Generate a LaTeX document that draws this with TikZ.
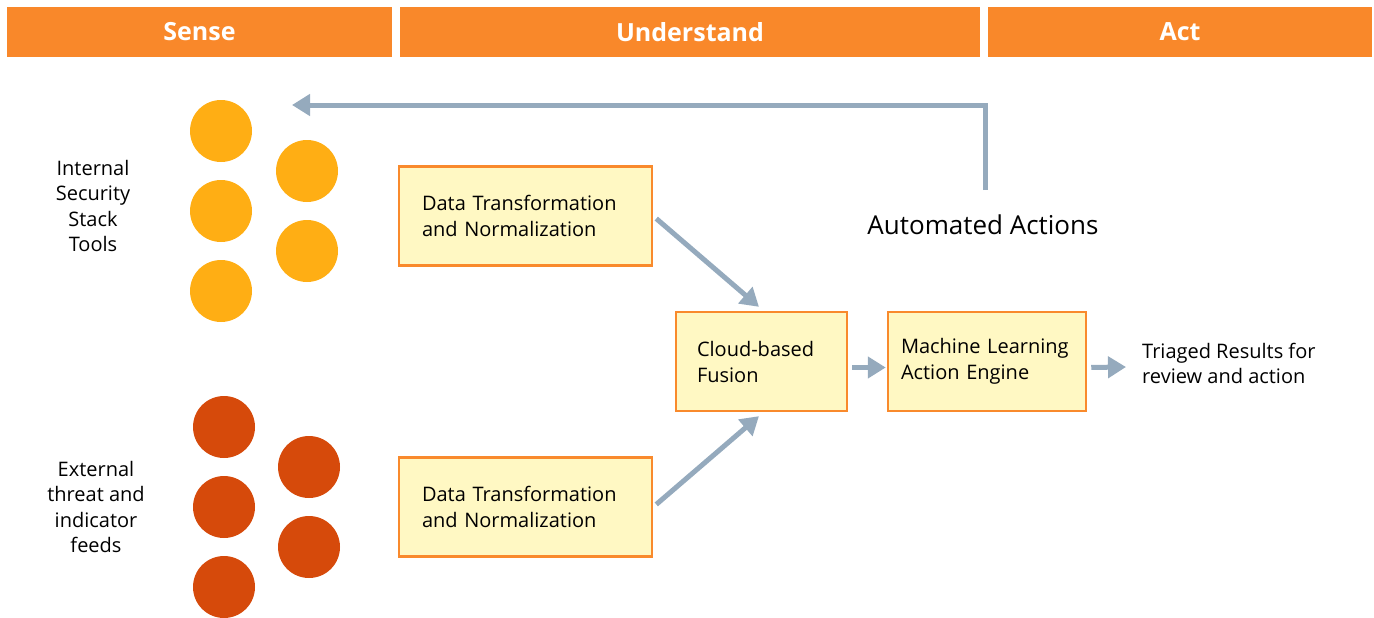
\documentclass[tikz,border=0pt]{standalone}
\usepackage{fontspec}
\setmainfont{Open Sans}
\usepackage{tikz}
\usetikzlibrary{arrows.meta}
\definecolor{hdrorange}{HTML}{F9882A}
\definecolor{dotyellow}{HTML}{FFAE14}
\definecolor{dotred}{HTML}{D64A0B}
\definecolor{boxfill}{HTML}{FFF8C3}
\definecolor{boxedge}{HTML}{F98A2C}
\definecolor{flowgray}{HTML}{95AABD}

\begin{document}
\begin{tikzpicture}[line cap=butt,line join=miter,x=1pt,y=-1pt,
  header/.style={fill=hdrorange,text=white,font=\fontsize{25}{30}\selectfont\bfseries,minimum height=50pt,inner sep=0pt},
  stagebox/.style={draw=boxedge,line width=2.5pt,fill=boxfill,minimum height=99pt,align=left,font=\fontsize{20}{26}\selectfont},
  sidetext/.style={align=center,font=\fontsize{20}{25.5}\selectfont},
  flow/.style={draw=flowgray,line width=5pt,-{Triangle[length=18pt,width=21pt]}}]
\useasboundingbox (0,0) rectangle (1374,618);
% phase headers
\node[header,minimum width=385pt] (sense) at (199.5,32) {Sense};
\node[header,minimum width=580pt] (understand) at (690,32) {Understand};
\node[header,minimum width=384pt] (act) at (1180,32) {Act};
% source dots
\foreach \y in {131,211,291} \fill[dotyellow] (221,\y) circle (31);
\foreach \y in {171,251} \fill[dotyellow] (307,\y) circle (31);
\foreach \y in {427,507,587} \fill[dotred] (224,\y) circle (31);
\foreach \y in {467,547} \fill[dotred] (309,\y) circle (31);
\node[sidetext] (internal) at (93,206) {Internal\\Security\\Stack\\Tools};
\node[sidetext] (external) at (96,507) {External\\threat and\\indicator\\feeds};
% processing boxes
\node[stagebox,inner xsep=23pt,text width=207pt] (dt1) at (525.5,216) {Data Transformation\\and Normalization};
\node[stagebox,inner xsep=23pt,text width=207pt] (dt2) at (525.5,507) {Data Transformation\\and Normalization};
\node[stagebox,inner xsep=21pt,text width=129pt] (cloud) at (761.5,361.5) {Cloud-based\\Fusion};
\node[stagebox,inner xsep=13pt,text width=172pt] (ml) at (987,361.5) {Machine Learning\\Action Engine};
\node[sidetext,align=left,anchor=west,inner sep=0pt] (triaged) at (1142,363.5) {Triaged Results for\\review and action};
\node[font=\fontsize{26}{30}\selectfont] (auto) at (983,225) {Automated Actions};
\coordinate (fbstart) at (985,190);
\coordinate (fbend) at (292,105);
% arrows
\draw[flow,shorten <=4pt,shorten >=6pt] (dt1.east) -- ([xshift=2pt]cloud.north);
\draw[flow,shorten <=4pt,shorten >=6pt] (dt2.east) -- ([xshift=2pt]cloud.south);
\draw[flow,shorten <=4pt,shorten >=1pt] ([yshift=-6pt]cloud.east) -- ([yshift=-6pt]ml.west);
\draw[flow,shorten <=4pt] ([yshift=-6pt]ml.east) -- ([xshift=-16pt,yshift=-3.5pt]triaged.west);
\draw[flow] (fbstart) |- (fbend);
\end{tikzpicture}
\end{document}
